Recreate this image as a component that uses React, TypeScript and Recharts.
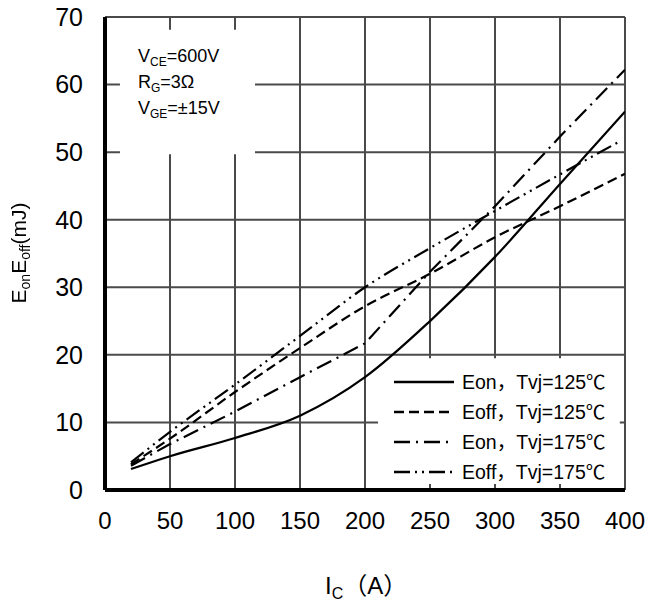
import React from 'react';
import { LineChart, Line, XAxis, YAxis, CartesianGrid, ReferenceArea } from 'recharts';

// switching energy vs collector current
const currents = [20, 50, 100, 150, 200, 250, 300, 350, 400];
const eon125 = [3.1, 5.0, 7.7, 11.0, 16.7, 25.0, 34.5, 45.3, 56.0];
const eoff125 = [3.8, 7.6, 14.5, 21.0, 27.2, 32.0, 37.4, 42.0, 46.8];
const eon175 = [3.6, 6.8, 11.6, 16.7, 21.7, 32.3, 42.0, 52.3, 62.2];
const eoff175Currents = [20, 50, 100, 150, 200, 250, 300, 350, 395];
const eoff175 = [4.1, 8.6, 15.6, 22.8, 30.0, 35.8, 41.3, 46.7, 51.5];

const xTicks = [0, 50, 100, 150, 200, 250, 300, 350, 400];
const yTicks = [0, 10, 20, 30, 40, 50, 60, 70];

const FONT = '"Liberation Sans", Arial, "Noto Sans CJK SC", sans-serif';

const mainData = currents.map((ic, i) => ({
  ic,
  eon125: eon125[i],
  eoff125: eoff125[i],
  eon175: eon175[i],
}));
const eoff175Data = eoff175Currents.map((ic, i) => ({ ic, eoff175: eoff175[i] }));

const series = [
  { label: 'Eon，Tvj=125℃', dash: undefined },
  { label: 'Eoff，Tvj=125℃', dash: '10 5' },
  { label: 'Eon，Tvj=175℃', dash: '16 6 2 6' },
  { label: 'Eoff，Tvj=175℃', dash: '16 5 2 5 2 5' },
];

const subStyle: React.CSSProperties = { fontSize: 14, verticalAlign: '-4px', lineHeight: 0 };

// text layer drawn on top of the chart svg
const Overlay = () => (
  <>
    <svg
      width={649}
      height={605}
      style={{ position: 'absolute', left: 0, top: 0, pointerEvents: 'none' }}
    >
      <g fontFamily={FONT} fill="#000">
        <text x={138} y={62} fontSize={18}>
          V<tspan fontSize={12} dy={4}>CE</tspan><tspan dy={-4}>=600V</tspan>
        </text>
        <text x={138} y={88} fontSize={18}>
          R<tspan fontSize={12} dy={4}>G</tspan><tspan dy={-4}>=3Ω</tspan>
        </text>
        <text x={138} y={114} fontSize={18}>
          V<tspan fontSize={12} dy={4}>GE</tspan><tspan dy={-4}>=±15V</tspan>
        </text>

        {series.map((s, i) => {
          const cy = 382 + i * 30;
          return (
            <g key={s.label}>
              <line x1={394} x2={454} y1={cy} y2={cy} stroke="#000" strokeWidth={2.5} strokeDasharray={s.dash} />
              <text x={462} y={cy + 7} fontSize={19.5}>{s.label}</text>
            </g>
          );
        })}

        <text x={325} y={594} fontSize={24}>
          I<tspan fontSize={16} dy={5}>C</tspan><tspan dy={-5}>（A）</tspan>
        </text>
      </g>
    </svg>
    <div
      style={{
        position: 'absolute',
        left: 18,
        top: 253,
        transform: 'translate(-50%, -50%) rotate(-90deg)',
        whiteSpace: 'nowrap',
        fontFamily: FONT,
        fontSize: 21,
        lineHeight: '21px',
        color: '#000',
        filter: 'grayscale(1)',
      }}
    >
      E<span style={subStyle}>on</span>E<span style={subStyle}>off</span>(mJ)
    </div>
  </>
);

export default function App() {
  return (
    <div style={{ position: 'absolute', left: 0, top: 0, width: 649, height: 605, background: '#fff' }}>
      <LineChart width={649} height={605} margin={{ top: 17, right: 24, bottom: 75, left: 0 }}>
        <CartesianGrid stroke="#4a4a4a" strokeWidth={2} />
        <XAxis
          type="number"
          dataKey="ic"
          domain={[0, 400]}
          ticks={xTicks}
          height={40}
          tickLine={false}
          tickSize={0}
          tickMargin={22}
          axisLine={{ stroke: '#000', strokeWidth: 4 }}
          tick={{ fill: '#000', fontSize: 24, fontFamily: FONT }}
          allowDataOverflow
        />
        <YAxis
          type="number"
          domain={[0, 70]}
          ticks={yTicks}
          width={105}
          tickLine={false}
          tickSize={0}
          tickMargin={22}
          axisLine={{ stroke: '#000', strokeWidth: 4 }}
          tick={{ fill: '#000', fontSize: 25, fontFamily: FONT }}
          allowDataOverflow
        />
        {/* white panels behind the conditions and the legend */}
        <ReferenceArea x1={11.5} x2={115.4} y1={49.7} y2={68.1} fill="#fff" fillOpacity={1} stroke="none" />
        <ReferenceArea x1={210} x2={396} y1={0.9} y2={19.5} fill="#fff" fillOpacity={1} stroke="none" />
        <Line data={mainData} dataKey="eon125" type="monotone" stroke="#000" strokeWidth={2.2} dot={false} isAnimationActive={false} />
        <Line data={mainData} dataKey="eoff125" type="monotone" stroke="#000" strokeWidth={2.2} strokeDasharray="10 5" dot={false} isAnimationActive={false} />
        <Line data={mainData} dataKey="eon175" type="linear" stroke="#000" strokeWidth={2.2} strokeDasharray="16 6 2 6" dot={false} isAnimationActive={false} />
        <Line data={eoff175Data} dataKey="eoff175" type="monotone" stroke="#000" strokeWidth={2.2} strokeDasharray="16 5 2 5 2 5" dot={false} isAnimationActive={false} />
      </LineChart>
      <Overlay />
    </div>
  );
}
